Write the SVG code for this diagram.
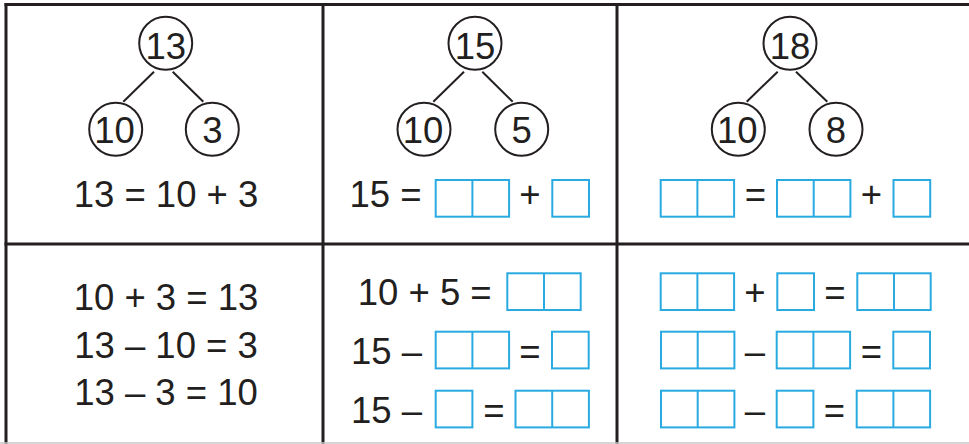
<svg xmlns="http://www.w3.org/2000/svg" width="969" height="444" viewBox="0 0 969 444">
<style>
.grid{stroke:#231f20;stroke-width:3;fill:none}
.node circle{fill:#fff;stroke:#231f20;stroke-width:2}
.t{font-family:"Liberation Sans",Arial,sans-serif;font-size:36.5px;fill:#231f20}
.m{text-anchor:middle}
.box{fill:#fff;stroke:#29abe2;stroke-width:2}
.edge{stroke:#231f20;stroke-width:2;fill:none}
</style>
<defs>
<g id="b1"><rect class="box" x="0" y="0" width="36.7" height="36.7"/></g>
<g id="b2"><rect class="box" x="0" y="0" width="73.4" height="36.7"/><line class="box" x1="36.7" y1="0" x2="36.7" y2="36.7"/></g>
</defs>
<rect width="969" height="444" fill="#fff"/>
<g id="grid">
<line class="grid" x1="4.5" y1="4.5" x2="969" y2="4.5"/>
<line class="grid" x1="6" y1="3" x2="6" y2="444"/>
<line class="grid" x1="323" y1="3" x2="323" y2="444"/>
<line class="grid" x1="617" y1="3" x2="617" y2="444"/>
<line class="grid" x1="4.5" y1="244" x2="969" y2="244"/>
<line x1="0" y1="443" x2="969" y2="443" stroke="#c8c8c8" stroke-width="1.5"/>
</g>
<g id="connectors">
<line class="edge" x1="154" y1="71.7" x2="123.3" y2="101.7"/>
<line class="edge" x1="172.7" y1="71.7" x2="203.3" y2="101.7"/>
<line class="edge" x1="464" y1="71.7" x2="433.3" y2="101.7"/>
<line class="edge" x1="482.3" y1="71.7" x2="512.7" y2="101.7"/>
<line class="edge" x1="777.7" y1="71.7" x2="746.7" y2="101.7"/>
<line class="edge" x1="796" y1="71.7" x2="827.3" y2="101.7"/>
</g>
<g id="n13" class="node"><circle cx="165.7" cy="43.3" r="26.5"/><text class="t m" x="165.7" y="59.3">13</text></g>
<g id="n13-10" class="node"><circle cx="115.7" cy="129.3" r="26.5"/><text class="t m" x="114.5" y="143">10</text></g>
<g id="n13-3" class="node"><circle cx="212.3" cy="129.3" r="26.5"/><text class="t m" x="212.3" y="143">3</text></g>
<g id="n15" class="node"><circle cx="475" cy="43.3" r="26.5"/><text class="t m" x="475" y="59.3">15</text></g>
<g id="n15-10" class="node"><circle cx="424" cy="129.3" r="26.5"/><text class="t m" x="423" y="143">10</text></g>
<g id="n15-5" class="node"><circle cx="521.7" cy="129.3" r="26.5"/><text class="t m" x="521.7" y="143">5</text></g>
<g id="n18" class="node"><circle cx="790" cy="43.3" r="26.5"/><text class="t m" x="790" y="59.3">18</text></g>
<g id="n18-10" class="node"><circle cx="738.3" cy="129.3" r="26.5"/><text class="t m" x="737.3" y="143">10</text></g>
<g id="n18-8" class="node"><circle cx="836" cy="129.3" r="26.5"/><text class="t m" x="836" y="143">8</text></g>
<g id="eq1">
<text class="t m" x="166" y="207">13 = 10 + 3</text>
</g>
<g id="eq2">
<text class="t" x="349.5" y="207">15 =</text>
<use href="#b2" x="435.7" y="180"/>
<text class="t m" x="530" y="207">+</text>
<use href="#b1" x="552.3" y="180"/>
</g>
<g id="eq3">
<use href="#b2" x="660.7" y="180"/>
<text class="t m" x="755.5" y="207">=</text>
<use href="#b2" x="777" y="180"/>
<text class="t m" x="871.5" y="207">+</text>
<use href="#b1" x="893.5" y="180"/>
</g>
<g id="facts1">
<text class="t m" x="166" y="310">10 + 3 = 13</text>
<text class="t m" x="166" y="358">13 – 10 = 3</text>
<text class="t m" x="166" y="405">13 – 3 = 10</text>
</g>
<g id="facts2">
<text class="t" x="357.7" y="305">10 + 5 =</text>
<use href="#b2" x="507.3" y="273.3"/>
<text class="t" x="351" y="364">15 –</text>
<use href="#b2" x="435.7" y="331.7"/>
<text class="t m" x="530" y="364">=</text>
<use href="#b1" x="552" y="331.7"/>
<text class="t" x="351" y="422.5">15 –</text>
<use href="#b1" x="435.7" y="390.7"/>
<text class="t m" x="494" y="422.5">=</text>
<use href="#b2" x="515.5" y="390.7"/>
</g>
<g id="facts3">
<use href="#b2" x="660.7" y="273.3"/>
<text class="t m" x="755" y="305">+</text>
<use href="#b1" x="777.3" y="273.3"/>
<text class="t m" x="835" y="305">=</text>
<use href="#b2" x="857.3" y="273.3"/>
<use href="#b2" x="661" y="331.7"/>
<text class="t m" x="755" y="364">–</text>
<use href="#b2" x="776.7" y="331.7"/>
<text class="t m" x="871.5" y="364">=</text>
<use href="#b1" x="893.3" y="331.7"/>
<use href="#b2" x="661" y="390.7"/>
<text class="t m" x="755" y="422.5">–</text>
<use href="#b1" x="776.7" y="390.7"/>
<text class="t m" x="834.5" y="422.5">=</text>
<use href="#b2" x="856.7" y="390.7"/>
</g>
</svg>
